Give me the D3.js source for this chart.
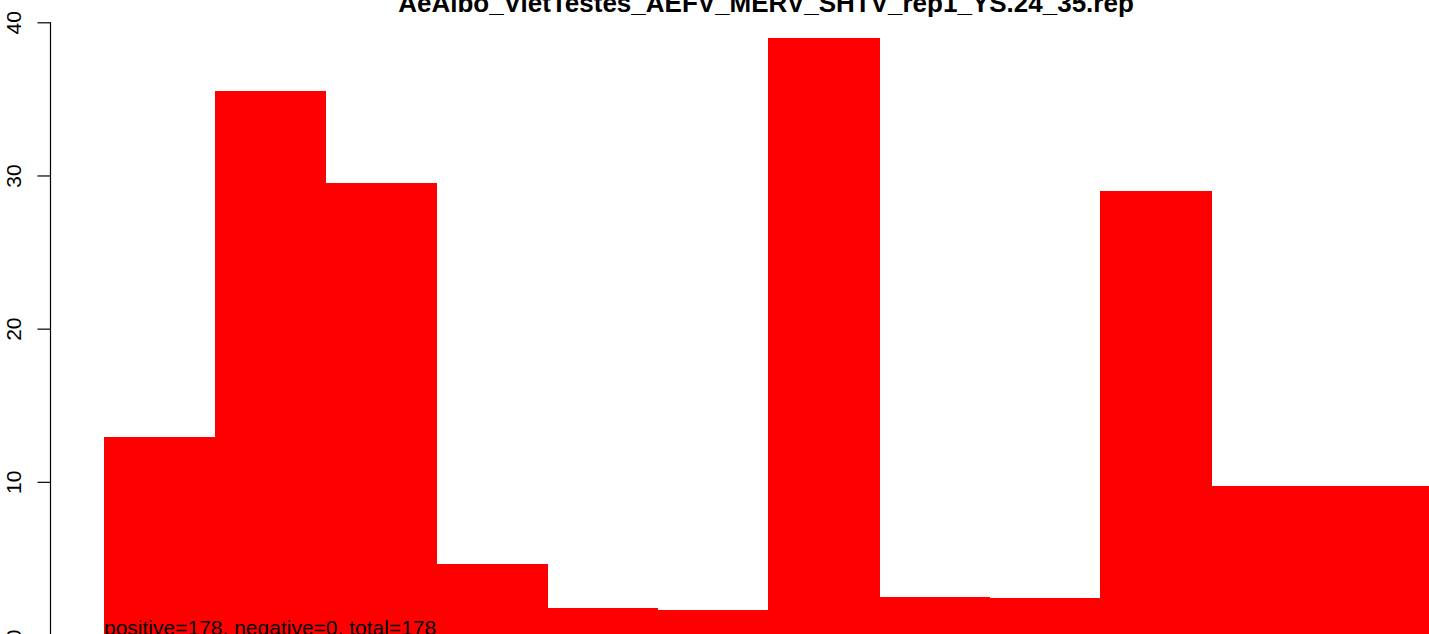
<!DOCTYPE html>
<html><head><meta charset="utf-8">
<script src="https://cdn.jsdelivr.net/npm/d3@7"></script>
<style>body{margin:0;background:#fff}svg{display:block}</style>
</head><body>
<script>
const title = "AeAlbo_VietTestes_AEFV_MERV_SHTV_rep1_YS.24_35.rep";
const footnote = "positive=178, negative=0, total=178";
const bins = [1,2,3,4,5,6,7,8,9,10,11,12];
const values = [12.9, 35.5, 29.5, 4.65, 1.75, 1.65, 39.0, 2.5, 2.4, 29.0, 9.75, 9.75];
const yTicks = [0, 10, 20, 30, 40];

const W = 1429, H = 634;
const svg = d3.select("body").append("svg").attr("width", W).attr("height", H);

const x = d3.scaleLinear().domain([0, 12]).range([104, 104 + 12 * 110.65]);
const y = d3.scaleLinear().domain([0, 40]).range([635, 22.3]);

svg.append("g").attr("shape-rendering", "crispEdges").selectAll("rect").data(values).join("rect")
  .attr("x", (d, i) => x(i))
  .attr("width", (d, i) => x(i + 1) - x(i) + 1)
  .attr("y", d => y(d))
  .attr("height", d => y(0) - y(d))
  .attr("fill", "#ff0000");

const ax = svg.append("g").attr("transform", "translate(50.5,0)")
  .call(d3.axisLeft(y).tickValues(yTicks).tickSize(13).tickPadding(0).tickFormat(d3.format("d")));
ax.select(".domain").attr("stroke", "#000").attr("stroke-width", 1.2).attr("d", `M0,${y(0)}V${y(40)}`);
ax.selectAll(".tick line").attr("stroke", "#000").attr("stroke-width", 1.2);
ax.selectAll(".tick text")
  .attr("transform", "rotate(-90)")
  .attr("x", 0).attr("y", -30).attr("dy", "0")
  .attr("text-anchor", "middle")
  .style("font-family", "'Liberation Sans', Arial, sans-serif")
  .style("font-size", "21px").attr("fill", "#000");

svg.append("text").attr("x", 766).attr("y", 11.5).attr("text-anchor", "middle")
  .style("font-family", "'Liberation Sans', Arial, sans-serif")
  .style("font-weight", "bold").style("font-size", "26px").text(title);

svg.append("text").attr("x", 104).attr("y", 634.5)
  .style("font-family", "'Liberation Sans', Arial, sans-serif")
  .style("font-size", "21px").text(footnote);
</script>
</body></html>
